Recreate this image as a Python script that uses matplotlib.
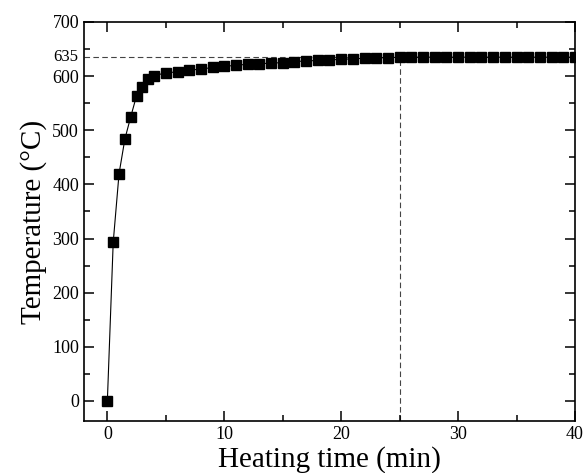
import numpy as np
import matplotlib.pyplot as plt
from matplotlib.ticker import MultipleLocator
import matplotlib.transforms as mtransforms

plt.rcParams['font.family'] = ['Liberation Serif', 'DejaVu Serif']
plt.rcParams['mathtext.fontset'] = 'stix'

# heating curve
time_min = [0, 0.5, 1, 1.5, 2, 2.5, 3, 3.5, 4,
            5, 6, 7, 8, 9, 10, 11, 12, 13, 14, 15, 16, 17, 18, 19, 20,
            21, 22, 23, 24, 25, 26, 27, 28, 29, 30, 31, 32, 33, 34, 35,
            36, 37, 38, 39, 40]
temp_c = [0, 293, 420, 484, 525, 564, 580, 594, 601,
          606, 608, 611, 613, 616, 618, 620, 622, 623, 624, 625, 627, 628, 629, 630, 631,
          632, 633, 634, 634, 635, 635, 635, 635, 635, 635, 635, 635, 635, 635, 635,
          635, 635, 635, 635, 635]
t_mark = 25
T_mark = 635

fig = plt.figure(figsize=(5.84, 4.73), dpi=100)
ax = fig.add_axes([0.1438, 0.1099, 0.8408, 0.8436])

ax.plot(time_min, temp_c, color='black', linewidth=0.8, marker='s',
        markersize=7, markerfacecolor='black', markeredgecolor='black', zorder=3)

# dashed guide lines at 635 C / 25 min
ax.axhline(T_mark, color='#444444', linestyle=(0, (5, 3)), linewidth=0.8, zorder=1)
ax.plot([t_mark, t_mark], [-37, T_mark], color='#444444', linestyle=(0, (5, 3)),
        linewidth=0.8, zorder=1)

ax.set_xlim(-2, 40)
ax.set_ylim(-37, 700)
ax.xaxis.set_major_locator(MultipleLocator(10))
ax.xaxis.set_minor_locator(MultipleLocator(5))
ax.yaxis.set_major_locator(MultipleLocator(100))
ax.yaxis.set_minor_locator(MultipleLocator(50))

ax.tick_params(which='both', direction='in', top=True, right=True, labelsize=13, width=1.1)
ax.tick_params(which='major', length=7)
ax.tick_params(which='minor', length=4)
for s in ax.spines.values():
    s.set_linewidth(1.2)

trans = mtransforms.blended_transform_factory(ax.transAxes, ax.transData)
ax.text(-0.012, T_mark, str(T_mark), transform=trans, ha='right', va='center', fontsize=12)

ax.set_xlabel('Heating time (min)', fontsize=21, labelpad=2)
ax.set_ylabel('Temperature (°C)', fontsize=21, labelpad=4)

plt.savefig('out.png', dpi=100)
